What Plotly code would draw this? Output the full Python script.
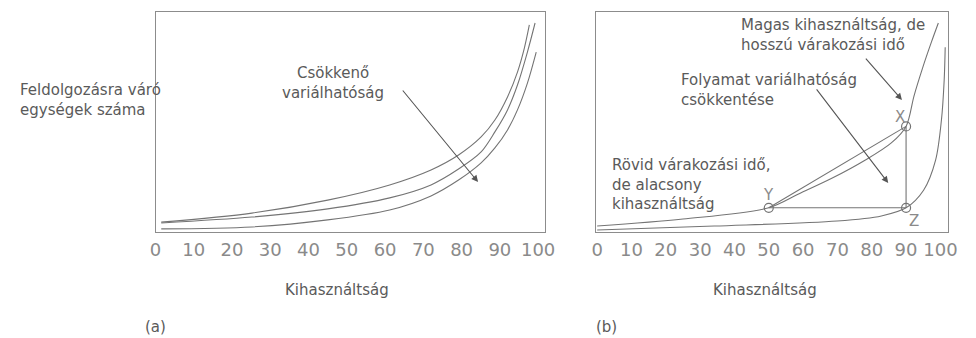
import plotly.graph_objects as go

# ---- data -------------------------------------------------------------
# Panel (a): queue length vs. utilisation for three levels of variability
util_hi = [1.5, 25.2, 45.0, 61.2, 72.0, 79.2, 85.1, 88.7, 92.0, 94.6, 96.4, 97.7]
queue_hi = [4.5, 8.6, 14.5, 21.4, 28.2, 35, 43.2, 50.9, 61.4, 72.7, 83.6, 94.1]

util_mid = [1.5, 25.2, 45.0, 61.2, 72.0, 79.2, 85.1, 88.7, 92.0, 94.6, 97.2, 99.2]
queue_mid = [4.1, 6.8, 10.5, 15.5, 21.4, 28.6, 36.4, 45.5, 55.5, 66.8, 81.8, 95]

util_lo = [1.5, 25.2, 45.0, 61.2, 72.0, 79.2, 85.1, 88.7, 92.0, 94.6, 97.2, 99.5]
queue_lo = [1.4, 2.3, 5.5, 10, 16.4, 23.6, 31.4, 38.2, 46.4, 55.5, 67.7, 81.8]

# Panel (b): original and reduced-variability curves
util_orig = [0, 25, 50, 59, 68.5, 77.9, 85.7, 90, 92.3, 94.8, 97.4, 99.4]
queue_orig = [2.7, 5.9, 11, 17.5, 24.5, 32.5, 40.5, 48, 61.8, 74.5, 86.4, 95]

util_red = [0, 34.1, 69.9, 82.8, 90, 95.1, 98.6, 100.3, 101.1, 101.4]
queue_red = [0.9, 2.7, 5, 7.3, 11, 19, 32.7, 50.9, 69, 84]

# Operating points X, Y, Z
pt_names = ["X", "Y", "Z"]
pt_util = [90, 50, 90]
pt_queue = [48, 11, 11]

tick_vals = [0, 10, 20, 30, 40, 50, 60, 70, 80, 90, 100]
tick_text = [str(v) for v in tick_vals]

# ---- styling ----------------------------------------------------------
W, H = 976, 338
LINE = "#747474"
BOX = "#8c8c8c"
TXT = "#5a5a5a"
TICK = "#8a8a8a"
FONT = "DejaVu Sans"


def px_x(p):
    return p / W


def px_y(p):
    return 1 - p / H


fig = go.Figure()

line_style = dict(color=LINE, width=1.1, shape="spline", smoothing=0.9)
for ux, qy in [(util_hi, queue_hi), (util_mid, queue_mid), (util_lo, queue_lo)]:
    fig.add_trace(go.Scatter(x=ux, y=qy, mode="lines", line=line_style,
                             xaxis="x", yaxis="y", hoverinfo="skip"))

for ux, qy in [(util_orig, queue_orig), (util_red, queue_red)]:
    fig.add_trace(go.Scatter(x=ux, y=qy, mode="lines", line=line_style,
                             xaxis="x2", yaxis="y2", hoverinfo="skip"))

# straight connections Y-X, X-Z, Y-Z
ix, iy, iz = pt_names.index("X"), pt_names.index("Y"), pt_names.index("Z")
for a, b in [(iy, ix), (ix, iz), (iy, iz)]:
    fig.add_trace(go.Scatter(x=[pt_util[a], pt_util[b]], y=[pt_queue[a], pt_queue[b]],
                             mode="lines", line=dict(color=LINE, width=1.1),
                             xaxis="x2", yaxis="y2", hoverinfo="skip"))

fig.add_trace(go.Scatter(x=pt_util, y=pt_queue, mode="markers",
                         marker=dict(symbol="circle-open", size=9,
                                     line=dict(color=LINE, width=1.2), color=LINE),
                         xaxis="x2", yaxis="y2", hoverinfo="skip"))

axis_common = dict(showgrid=False, zeroline=False, showline=True, mirror=True,
                   linecolor=BOX, linewidth=1.2, ticks="")
xaxis_common = dict(axis_common, tickvals=tick_vals, ticktext=tick_text,
                    tickfont=dict(family=FONT, size=18, color=TICK),
                    ticklabelstandoff=1)

fig.update_layout(
    width=W, height=H,
    margin=dict(l=0, r=0, t=0, b=0),
    paper_bgcolor="white", plot_bgcolor="white",
    showlegend=False,
    font=dict(family=FONT, size=15, color=TXT),
    xaxis=dict(xaxis_common, domain=[px_x(152), px_x(548)], range=[0, 101.8],
               anchor="y"),
    yaxis=dict(axis_common, domain=[px_y(232), px_y(12)], range=[0, 100],
               showticklabels=False, anchor="x"),
    xaxis2=dict(xaxis_common, domain=[px_x(600), px_x(958)], range=[-0.29, 102.3],
                anchor="y2"),
    yaxis2=dict(axis_common, domain=[px_y(232), px_y(12)], range=[0, 100],
                showticklabels=False, anchor="x2"),
)

ann = []
# axis and panel titles
ann.append(dict(text="Feldolgozásra váró<br>egységek száma", xref="paper", yref="paper",
                x=px_x(12), y=px_y(99.5), xanchor="left", yanchor="middle", align="left",
                showarrow=False))
ann.append(dict(text="Kihasználtság", xref="paper", yref="paper",
                x=px_x(337), y=px_y(290), xanchor="center", yanchor="middle", showarrow=False))
ann.append(dict(text="Kihasználtság", xref="paper", yref="paper",
                x=px_x(772), y=px_y(290), xanchor="center", yanchor="middle", showarrow=False))
ann.append(dict(text="(a)", xref="paper", yref="paper",
                x=px_x(152), y=px_y(327), xanchor="center", yanchor="middle", showarrow=False))
ann.append(dict(text="(b)", xref="paper", yref="paper",
                x=px_x(610), y=px_y(327), xanchor="center", yanchor="middle", showarrow=False))

# panel (a) callout
ann.append(dict(text="Csökkenő<br>variálhatóság", xref="x", yref="y", x=46.5, y=67.5,
                xanchor="center", yanchor="middle", showarrow=False))
ann.append(dict(text="", xref="x", yref="y", x=84.3, y=22.7, axref="x", ayref="y",
                ax=64.3, ay=65, showarrow=True, arrowhead=2, arrowsize=1.2,
                arrowwidth=1.1, arrowcolor="#555"))

# panel (b) callouts
ann.append(dict(text="Magas kihasználtság, de<br>hosszú várakozási idő", xref="x2", yref="y2",
                x=41.3, y=89.5, xanchor="left", yanchor="middle", align="left",
                showarrow=False))
ann.append(dict(text="", xref="x2", yref="y2", x=88.8, y=60, axref="x2", ayref="y2",
                ax=77.9, ay=79.5, showarrow=True, arrowhead=2, arrowsize=1.2,
                arrowwidth=1.1, arrowcolor="#555"))
ann.append(dict(text="Folyamat variálhatóság<br>csökkentése", xref="x2", yref="y2",
                x=23.8, y=64.5, xanchor="left", yanchor="middle", align="left",
                showarrow=False))
ann.append(dict(text="", xref="x2", yref="y2", x=84.8, y=22.3, axref="x2", ayref="y2",
                ax=63.6, ay=65.5, showarrow=True, arrowhead=2, arrowsize=1.2,
                arrowwidth=1.1, arrowcolor="#555"))
ann.append(dict(text="Rövid várakozási idő,<br>de alacsony<br>kihasználtság", xref="x2",
                yref="y2", x=3.7, y=21.4, xanchor="left", yanchor="middle", align="left",
                showarrow=False))

# point letters
letter_pos = {"X": (88.3, 52.3), "Y": (50, 16.8), "Z": (92.3, 5)}
for name in pt_names:
    lx, ly = letter_pos[name]
    ann.append(dict(text=name, xref="x2", yref="y2", x=lx, y=ly, xanchor="center",
                    yanchor="middle", showarrow=False,
                    font=dict(family=FONT, size=15, color=TICK)))

fig.update_layout(annotations=ann)

fig.write_html("out.html")
